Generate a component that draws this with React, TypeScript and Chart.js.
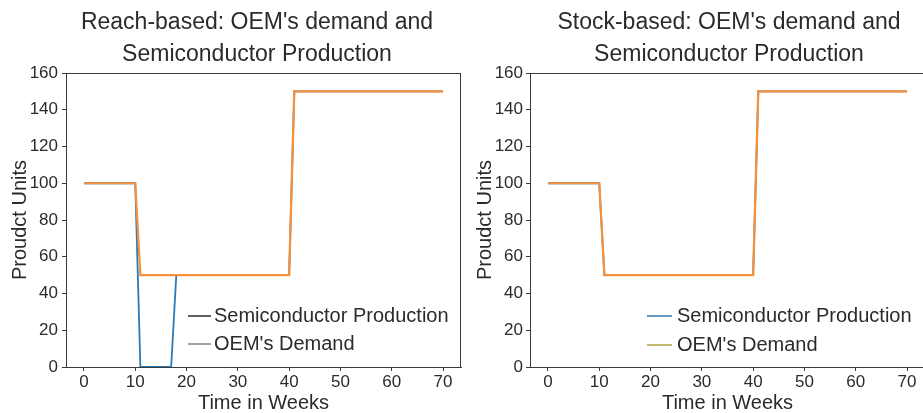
import React, { useEffect, useRef } from 'react';
import { Chart, registerables } from 'chart.js';

Chart.register(...registerables);

// ---- data ----
const reachDemandWeeks = [0, 10, 11, 40, 41, 70];
const reachDemandValues = [100, 100, 50, 50, 150, 150];
const reachProductionWeeks = [0, 10, 11, 17, 18, 40, 41, 70];
const reachProductionValues = [100, 100, 0, 0, 50, 50, 150, 150];

const stockDemandWeeks = [0, 10, 11, 40, 41, 70];
const stockDemandValues = [100, 100, 50, 50, 150, 150];
const stockProductionWeeks = [0, 10, 11, 40, 41, 70];
const stockProductionValues = [100, 100, 50, 50, 150, 150];

const xTicks = [0, 10, 20, 30, 40, 50, 60, 70];
const yTicks = [0, 20, 40, 60, 80, 100, 120, 140, 160];

const seriesLabels = ['Semiconductor Production', "OEM's Demand"];
const reachTitle = ["Reach-based: OEM's demand and", 'Semiconductor Production'];
const stockTitle = ["Stock-based: OEM's demand and", 'Semiconductor Production'];
const xAxisTitle = 'Time in Weeks';
const yAxisTitle = 'Proudct Units';

// ---- styles ----
const FONT = '"Liberation Sans", Arial, sans-serif';
const TEXT = '#2b2b2b';
const FRAME = '#3a3a3a';
const BLUE = '#2a7ab8';
const ORANGE = '#f7903a';

const toPoints = (xs: number[], ys: number[]) => xs.map((x, i) => ({ x, y: ys[i] }));

const decorPlugin = {
  id: 'decor',
  afterDraw(chart: any, _args: any, opts: any) {
    const { ctx, chartArea: a } = chart;
    ctx.save();
    // top and right spines
    ctx.strokeStyle = FRAME;
    ctx.lineWidth = 1;
    ctx.beginPath();
    ctx.moveTo(a.left, a.top + 0.5);
    ctx.lineTo(a.right, a.top + 0.5);
    ctx.moveTo(a.right - 0.5, a.top);
    ctx.lineTo(a.right - 0.5, a.bottom);
    ctx.stroke();
    // title
    ctx.fillStyle = TEXT;
    ctx.font = `23px ${FONT}`;
    ctx.textAlign = 'center';
    ctx.textBaseline = 'middle';
    opts.title.forEach((line: string, i: number) => ctx.fillText(line, opts.titleX, opts.titleY[i]));
    // legend
    ctx.font = `20px ${FONT}`;
    ctx.textAlign = 'left';
    opts.legend.forEach((item: any) => {
      ctx.strokeStyle = item.color;
      ctx.lineWidth = 1.6;
      ctx.beginPath();
      ctx.moveTo(opts.legendX0, item.y);
      ctx.lineTo(opts.legendX1, item.y);
      ctx.stroke();
      ctx.fillStyle = TEXT;
      ctx.fillText(item.label, opts.legendTextX, item.y);
    });
    ctx.restore();
  },
};

type PanelProps = {
  left: number;
  width: number;
  rightPad: number;
  yWidth: number;
  yTitlePad: number;
  yTickPad: number;
  demand: { x: number; y: number }[];
  production: { x: number; y: number }[];
  decor: any;
};

function Panel(p: PanelProps) {
  const ref = useRef<HTMLCanvasElement>(null);
  useEffect(() => {
    const chart = new Chart(ref.current as HTMLCanvasElement, {
      type: 'line',
      data: {
        datasets: [
          {
            label: seriesLabels[1],
            data: p.demand,
            borderColor: ORANGE,
            borderWidth: 2.2,
            pointRadius: 0,
            tension: 0,
            fill: false,
          },
          {
            label: seriesLabels[0],
            data: p.production,
            borderColor: BLUE,
            borderWidth: 1.8,
            pointRadius: 0,
            tension: 0,
            fill: false,
          },
        ],
      },
      options: {
        animation: false,
        responsive: false,
        maintainAspectRatio: false,
        events: [],
        layout: { padding: { top: 73, left: 0, right: p.rightPad, bottom: 0 } },
        plugins: {
          legend: { display: false },
          title: { display: false },
          tooltip: { enabled: false },
          decor: p.decor,
        } as any,
        scales: {
          x: {
            type: 'linear',
            min: -3.5,
            max: 73.5,
            afterBuildTicks: (s: any) => {
              s.ticks = xTicks.map((v) => ({ value: v }));
            },
            afterFit: (s: any) => {
              s.height = 46;
            },
            grid: { display: true, drawOnChartArea: false, drawTicks: true, tickLength: 4, color: FRAME },
            border: { display: true, color: FRAME, width: 1 },
            ticks: { font: { family: FONT, size: 17 }, color: TEXT, padding: 1, maxRotation: 0, autoSkip: false },
            title: {
              display: true,
              text: xAxisTitle,
              font: { family: FONT, size: 20, lineHeight: 1 },
              color: TEXT,
              padding: { top: 0, bottom: 0 },
            },
          },
          y: {
            type: 'linear',
            min: 0,
            max: 160,
            afterBuildTicks: (s: any) => {
              s.ticks = yTicks.map((v) => ({ value: v }));
            },
            afterFit: (s: any) => {
              s.width = p.yWidth;
            },
            grid: { display: true, drawOnChartArea: false, drawTicks: true, tickLength: 4, color: FRAME },
            border: { display: true, color: FRAME, width: 1 },
            ticks: { font: { family: FONT, size: 17 }, color: TEXT, padding: p.yTickPad },
            title: {
              display: true,
              text: yAxisTitle,
              font: { family: FONT, size: 20, lineHeight: 1 },
              color: TEXT,
              padding: { top: p.yTitlePad, bottom: 0 },
            },
          },
        },
      } as any,
      plugins: [decorPlugin],
    });
    return () => chart.destroy();
  }, []);
  return (
    <canvas
      ref={ref}
      width={p.width}
      height={413}
      style={{ position: 'absolute', left: p.left, top: 0, width: p.width, height: 413 }}
    />
  );
}

export default function App() {
  return (
    <div
      style={{
        position: 'fixed',
        left: 0,
        top: 0,
        width: 923,
        height: 413,
        overflow: 'hidden',
        background: '#ffffff',
      }}
    >
      <Panel
        left={0}
        width={462}
        rightPad={1}
        yWidth={66}
        yTitlePad={10}
        yTickPad={4}
        demand={toPoints(reachDemandWeeks, reachDemandValues)}
        production={toPoints(reachProductionWeeks, reachProductionValues)}
        decor={{
          title: reachTitle,
          titleX: 257,
          titleY: [23, 55],
          legendX0: 188,
          legendX1: 211,
          legendTextX: 214,
          legend: [
            { label: seriesLabels[0], color: '#34393f', y: 316 },
            { label: seriesLabels[1], color: '#8a8a8a', y: 344 },
          ],
        }}
      />
      <Panel
        left={462}
        width={470}
        rightPad={7}
        yWidth={68}
        yTitlePad={13}
        yTickPad={3}
        demand={toPoints(stockDemandWeeks, stockDemandValues)}
        production={toPoints(stockProductionWeeks, stockProductionValues)}
        decor={{
          title: stockTitle,
          titleX: 267,
          titleY: [23, 55],
          legendX0: 185,
          legendX1: 210,
          legendTextX: 215,
          legend: [
            { label: seriesLabels[0], color: '#3f80b8', y: 316 },
            { label: seriesLabels[1], color: '#b0a848', y: 345 },
          ],
        }}
      />
    </div>
  );
}
